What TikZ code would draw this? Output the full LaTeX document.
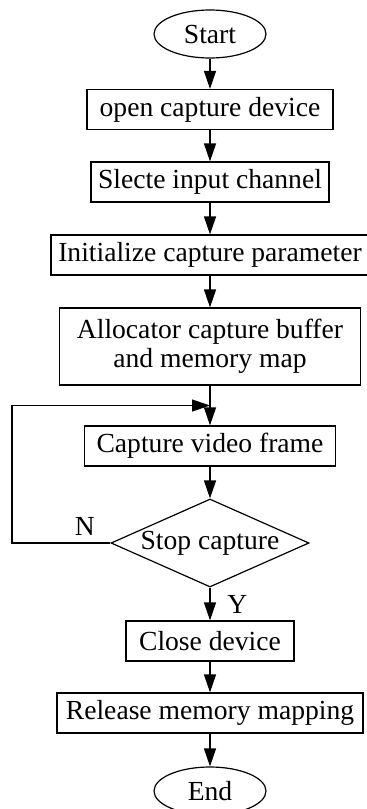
\documentclass[tikz,border=0pt]{standalone}
\usepackage{fontspec}
\setmainfont{Liberation Serif}
\usetikzlibrary{positioning,arrows.meta,shapes.geometric,calc}

\begin{document}
\begin{tikzpicture}[
      node distance=36.5pt, on grid,
      font=\fontsize{13.8pt}{14.5pt}\selectfont,
      line width=0.6pt,
      box/.style={draw, align=center, minimum height=20pt, inner ysep=2pt},
      term/.style={draw, ellipse, minimum width=56pt, minimum height=24pt, inner sep=0pt},
      decide/.style={draw, diamond, aspect=2.25, minimum width=99pt, minimum height=44pt, inner sep=0pt},
      arrow/.style={-{Triangle[length=9pt, width=6pt]}}
    ]
    \useasboundingbox (0,0) rectangle (183pt,-404.5pt);
    \node[term] (start) at (105pt,-17pt) {Start};
    \node[box, minimum width=123pt, below=37.75pt of start] (open) {open capture device};
    \node[box, minimum width=119pt, below=36.25pt of open] (chan) {Slecte input channel};
    \node[box, minimum width=159pt, below=of chan] (init) {Initialize capture parameter};
    \node[box, minimum width=150.5pt, minimum height=38.5pt, below=45.75pt of init] (alloc) {Allocator capture buffer\\and memory map};
    \node[box, minimum width=125.5pt, below=49.75pt of alloc] (cap) {Capture video frame};
    \node[decide, below=48.5pt of cap] (stop) {Stop capture};
    \node[box, minimum width=84pt, below=49pt of stop] (close) {Close device};
    \node[box, minimum width=153pt, below=36pt of close] (rel) {Release memory mapping};
    \node[term, below=39pt of rel] (end) {End};

    \coordinate (lft) at (6pt,0);
    \coordinate (join) at ($(alloc.south)!0.5!(cap.north)$);

    \draw[arrow] (start) -- (open);
    \draw[arrow] (open) -- (chan);
    \draw[arrow] (chan) -- (init);
    \draw[arrow] (init) -- (alloc);
    \draw[arrow] (alloc) -- (cap);
    \draw[arrow] (cap) -- (stop);
    \draw[arrow] (stop) -- node[right, xshift=5pt] {Y} (close);
    \draw[arrow] (close) -- (rel);
    \draw[arrow] (rel) -- (end);
    \draw[arrow] (stop.west) -- node[above, pos=0.26] {N} (stop.west -| lft) |- (join);
  \end{tikzpicture}
\end{document}
